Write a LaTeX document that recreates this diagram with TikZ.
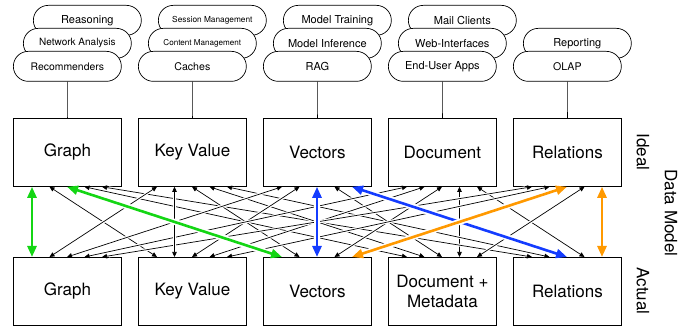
\documentclass[tikz,border=0pt]{standalone}
\usepackage{fontspec}
\setmainfont{TeX Gyre Heros}
\usetikzlibrary{arrows.meta}
\definecolor{linkgreen}{RGB}{20,214,20}
\definecolor{linkblue}{RGB}{20,60,255}
\definecolor{linkorange}{RGB}{255,153,0}
\newcommand{\fs}[1]{\fontsize{#1}{#1}\selectfont}
\begin{document}
\begin{tikzpicture}[x=1pt,y=-1pt,
  model/.style={draw, line width=0.8pt, minimum width=108pt, minimum height=68pt,
    inner sep=0pt, anchor=north west, align=center, font=\fs{17}},
  usecase/.style={draw, fill=white, line width=0.7pt, rounded corners=15pt,
    minimum width=108pt, minimum height=30pt, inner sep=0pt, anchor=north west,
    font=\fs{11}},
  link/.style={line width=0.7pt,
    {Triangle[length=5pt,width=4.5pt]}-{Triangle[length=5pt,width=4.5pt]},
    preaction={draw=white, line width=3pt, arrows=-, shorten <=7pt, shorten >=7pt}},
  keylink/.style={draw=#1, line width=2.6pt,
    {Triangle[length=11pt,width=9pt]}-{Triangle[length=11pt,width=9pt]},
    preaction={draw=white, line width=6pt, arrows=-, shorten <=13pt, shorten >=13pt}},
  side/.style={rotate=-90, font=\fs{17}}
]
\useasboundingbox (0,0) rectangle (693,328);

% use-case pills, drawn back to front
\node[usecase] (g3) at (33,5) {Reasoning};
\node[usecase, font=\fs{10}] (g2) at (23,28) {Network Analysis};
\node[usecase, font=\fs{10.4}] (g1) at (13,51) {Recommenders};
\node[usecase, font=\fs{8.3}] (k3) at (158,5) {Session Management};
\node[usecase, font=\fs{8.1}] (k2) at (148,28) {Content Management};
\node[usecase, font=\fs{10.6}] (k1) at (138,51) {Caches};
\node[usecase] (v3) at (283,5) {Model Training};
\node[usecase] (v2) at (273,28) {Model Inference};
\node[usecase] (v1) at (263,51) {RAG};
\node[usecase] (d3) at (408,5) {Mail Clients};
\node[usecase] (d2) at (398,28) {Web-Interfaces};
\node[usecase] (d1) at (388,51) {End-User Apps};
\node[usecase] (r2) at (523,28) {Reporting};
\node[usecase, font=\fs{10.6}] (r1) at (513,51) {OLAP};

% ideal data models
\node[model] (T0) at (13,118) {Graph};
\node[model] (T1) at (138,118) {Key Value};
\node[model] (T2) at (263,118) {Vectors};
\node[model] (T3) at (388,118) {Document};
\node[model] (T4) at (513,118) {Relations};

% actual data models
\node[model] (B0) at (13,257) {Graph};
\node[model] (B1) at (138,257) {Key Value};
\node[model] (B2) at (263,257) {Vectors};
\node[model, font={\fs{17}\baselineskip=20pt}] (B3) at (388,257) {Document +\\Metadata};
\node[model] (B4) at (513,257) {Relations};

% use cases to ideal models
\foreach \u/\m in {g1/T0, k1/T1, v1/T2, d1/T3, r1/T4}
  \draw[line width=0.7pt] (\u.south) -- (\m.north);

% mapping mesh: top box i, slot j  <->  bottom box j, slot i
\foreach \i/\j in {3/3, 0/1, 0/3, 0/4, 1/0, 1/2, 1/3, 1/4, 2/0, 2/1, 2/3,
                   3/0, 3/1, 3/2, 3/4, 4/0, 4/1, 4/3, 1/1}
  \draw[link] ([xshift={19+17.5*\j}]T\i.south west) -- ([xshift={19+17.5*\i}]B\j.north west);

% highlighted mappings
\foreach \i/\j/\c in {0/0/linkgreen, 0/2/linkgreen, 2/2/linkblue, 2/4/linkblue,
                      4/4/linkorange, 4/2/linkorange}
  \draw[keylink=\c] ([xshift={19+17.5*\j}]T\i.south west) -- ([xshift={19+17.5*\i}]B\j.north west);

% side labels
\node[side] (ideal) at (643,152) {Ideal};
\node[side] (actual) at (643,291) {Actual};
\node[side] (datamodel) at (671,213) {Data Model};
\end{tikzpicture}
\end{document}
